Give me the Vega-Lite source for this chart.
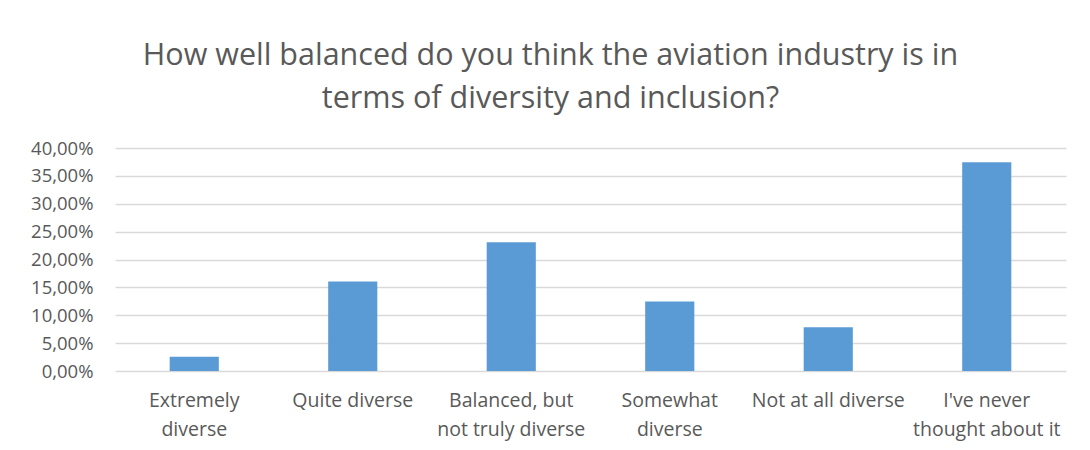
{
  "$schema": "https://vega.github.io/schema/vega-lite/v6.json",
  "width": 951,
  "height": 223,
  "autosize": {"type": "none"},
  "padding": {"left": 115, "top": 148, "right": 24, "bottom": 79},
  "background": "white",
  "title": {
    "text": ["How well balanced do you think the aviation industry is in", "terms of diversity and inclusion?"],
    "font": "Open Sans",
    "fontSize": 30.5,
    "fontWeight": "normal",
    "color": "#595959",
    "anchor": "middle",
    "dx": -40,
    "lineHeight": 43,
    "offset": 25
  },
  "data": {
    "values": [
      {"answer": "Extremely diverse", "share": 0.0255},
      {"answer": "Quite diverse", "share": 0.1607},
      {"answer": "Balanced, but not truly diverse", "share": 0.2308},
      {"answer": "Somewhat diverse", "share": 0.1245},
      {"answer": "Not at all diverse", "share": 0.0785},
      {"answer": "I've never thought about it", "share": 0.3745}
    ]
  },
  "mark": {"type": "bar", "color": "#5b9bd5"},
  "encoding": {
    "x": {
      "field": "answer",
      "type": "nominal",
      "sort": null,
      "title": null,
      "scale": {"paddingInner": 0.69, "paddingOuter": 0.345},
      "axis": {
        "labelAngle": 0,
        "labelFont": "Open Sans",
        "labelFontSize": 19.5,
        "labelColor": "#595959",
        "labelPadding": 20,
        "labelLineHeight": 29,
        "labelLimit": 0,
        "ticks": false,
        "domain": false,
        "labelExpr": "datum.label == 'Extremely diverse' ? ['Extremely', 'diverse'] : datum.label == 'Balanced, but not truly diverse' ? ['Balanced, but', 'not truly diverse'] : datum.label == 'Somewhat diverse' ? ['Somewhat', 'diverse'] : datum.label == \"I've never thought about it\" ? [\"I've never\", 'thought about it'] : datum.label"
      }
    },
    "y": {
      "field": "share",
      "type": "quantitative",
      "title": null,
      "scale": {"domain": [0, 0.4], "nice": false},
      "axis": {
        "values": [0, 0.05, 0.1, 0.15, 0.2, 0.25, 0.3, 0.35, 0.4],
        "labelExpr": "replace(format(datum.value, '.2%'), '.', ',')",
        "labelFont": "Open Sans",
        "labelFontSize": 18.5,
        "labelColor": "#595959",
        "labelPadding": 22,
        "ticks": false,
        "domain": false,
        "grid": true,
        "gridColor": "#d9d9d9",
        "gridWidth": 1.3
      }
    }
  },
  "config": {
    "view": {"stroke": null}
  }
}
